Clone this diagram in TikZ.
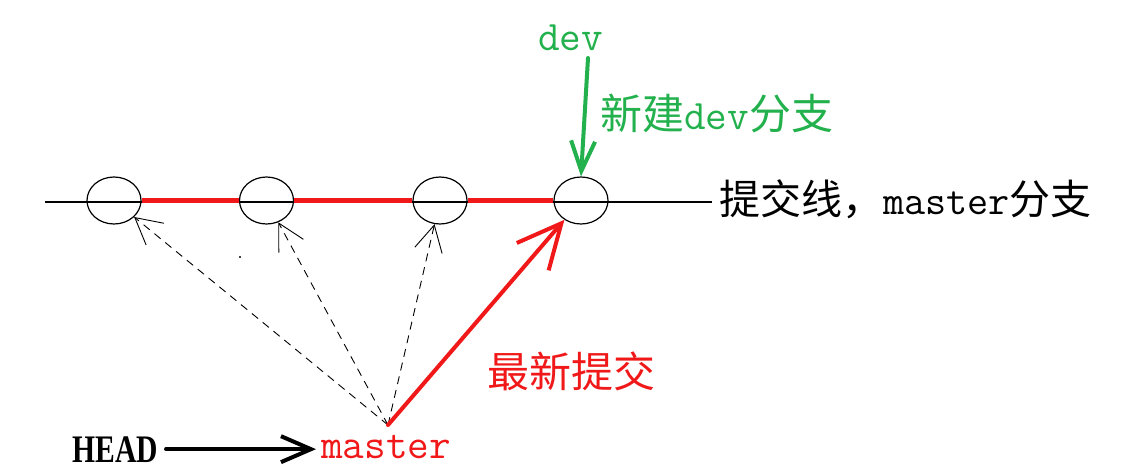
\documentclass[tikz,border=0pt]{standalone}
\usepackage{fontspec}
\setmainfont{Liberation Serif}
\newfontfamily\cjk{Noto Sans CJK SC}
\newfontfamily\lmono{Latin Modern Mono}
\usetikzlibrary{shapes.geometric,arrows.meta}
\definecolor{pred}{RGB}{240,24,24}
\definecolor{pgreen}{RGB}{34,177,76}
\tikzset{
  commit/.style={draw=black, line width=1.2pt, ellipse, minimum width=54pt, minimum height=47pt, inner sep=0pt},
  lbl/.style={inner sep=0pt, anchor=base west, font=\fontsize{42}{42}\selectfont},
  redseg/.style={draw=pred, line width=4.6pt},
  dasharrow/.style={draw=black, line width=0.9pt, dash pattern=on 8pt off 6pt, -{Straight Barb[length=26pt, width=28pt, line width=0.9pt]}},
  bigarrow/.style={line width=4pt, line cap=round, -{Straight Barb[length=30pt, width=26pt]}}
}
\begin{document}
\begin{tikzpicture}[x=1pt, y=-1pt]
\useasboundingbox (0,0) rectangle (1133,469);
% commit line
\coordinate (L) at (45,202);
\coordinate (R) at (712,202);
\draw[line width=1.2pt] (L) -- (R);
\node[commit] (c1) at (114,200.5) {};
\node[commit] (c2) at (266.5,200.5) {};
\node[commit] (c3) at (440,200.5) {};
\node[commit] (c4) at (581,200.5) {};
\draw[redseg] (c1.east) -- (c2.west);
\draw[redseg] (c2.east) -- (c3.west);
\draw[redseg] (c3.east) -- (c4.west);
% labels
\node[lbl, text=pgreen] (dev) at (538,50) {\lmono dev};
\node[lbl, text=pgreen] (newdev) at (600,129) {{\cjk 新建}{\lmono dev}{\cjk 分支}};
\node[lbl, font=\fontsize{41}{41}\selectfont] (line) at (719,214) {{\cjk 提交线，}{\lmono master}{\cjk 分支}};
\node[lbl, text=pred] (latest) at (487,387) {\cjk 最新提交};
\node[lbl, text=pred] (master) at (321,458) {\lmono master};
\node[lbl, font=\fontsize{39}{39}\selectfont\bfseries] (HEAD) at (72,462) {\scalebox{0.76}[1]{HEAD}};
% green arrow
\coordinate (g) at (588,58);
\draw[bigarrow, pgreen, -{Straight Barb[length=30pt, width=24pt]}] (g) -- (c4.north);
% master point
\coordinate (m) at (388,425);
\draw[dasharrow] (m) -- (c1);
\draw[dasharrow] (m) -- (c2);
\draw[dasharrow] (m) -- (c3);
\draw[bigarrow, pred, -{Straight Barb[length=44pt, width=42pt]}] (m) -- (c4);
% HEAD arrow
\draw[bigarrow, black, shorten <=8pt, shorten >=5pt] (HEAD.east) -- (HEAD.east -| master.west);
% stray dot
\fill (240,257) circle (1.2pt);
\end{tikzpicture}
\end{document}
